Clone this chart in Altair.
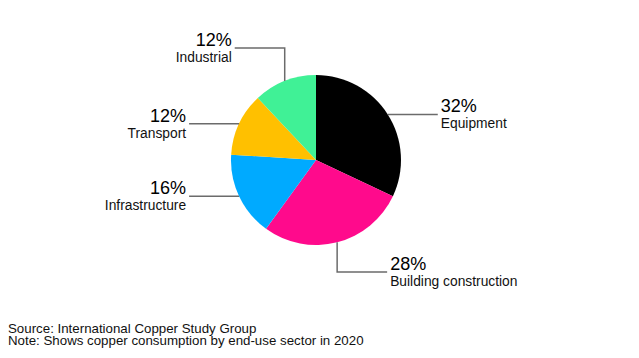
import math
import altair as alt
import pandas as pd

categories = ["Equipment", "Building construction", "Infrastructure", "Transport", "Industrial"]
shares = [32, 28, 16, 12, 12]
colors = ["#000000", "#ff0a8c", "#00aaff", "#ffc000", "#40f196"]
source_note = "Source: International Copper Study Group"
footnote = "Note: Shows copper consumption by end-use sector in 2020"

W, H = 623, 342
CX, CY = 308, 152  # pie centre inside the view
R = 85
ELBOW = 112
ARM = 50

pie = pd.DataFrame({"cat": categories, "share": shares, "idx": list(range(len(categories)))})
pie["x"] = 0
pie["y"] = 0

total = sum(shares)
rows, labels = [], []
cum = 0
for c, s in zip(categories, shares):
    mid = (cum + s / 2) / total * 2 * math.pi
    cum += s
    sn, cs = math.sin(mid), math.cos(mid)
    ex, ey = R * sn, -R * cs
    side = 1 if sn >= 0 else -1
    pts = [(ex, ey)]
    if abs(cs) > 0.8:
        ey2 = ELBOW if ey > 0 else -ELBOW
        pts.append((ex, ey2))
        pts.append((ex + side * ARM, ey2))
    else:
        pts.append((ex + side * ARM, ey))
    for k, (px, py) in enumerate(pts):
        rows.append({"cat": c, "step": k, "x": px, "y": py})
    fx, fy = pts[-1]
    labels.append({"cat": c, "pct": f"{s}%", "side": "right" if side > 0 else "left",
                   "tx": fx + side * 3, "py": fy - 2, "cy": fy + 14})

leaders = pd.DataFrame(rows)
lab = pd.DataFrame(labels)

xs = alt.Scale(domain=[-CX, W - CX], range=[0, W])
ys = alt.Scale(domain=[-CY, H - CY], range=[0, H])
X = lambda f: alt.X(f, type="quantitative", scale=xs, axis=None)
Y = lambda f: alt.Y(f, type="quantitative", scale=ys, axis=None)

arcs = alt.Chart(pie).mark_arc(radius=R).encode(
    x=X("x"), y=Y("y"),
    theta=alt.Theta("share:Q", stack=True),
    order=alt.Order("idx:Q"),
    color=alt.Color("cat:N", scale=alt.Scale(domain=categories, range=colors), legend=None),
)

lines = alt.Chart(leaders).mark_line(color="#6b6b6b", strokeWidth=1.5).encode(
    x=X("x"), y=Y("y"), detail="cat:N", order="step:Q"
)

FONT = "Liberation Sans"
layers = [arcs, lines]
for side, align in [("left", "right"), ("right", "left")]:
    base = alt.Chart(lab).transform_filter(alt.datum.side == side)
    layers.append(base.mark_text(align=align, baseline="alphabetic", font=FONT, fontSize=18,
                                 color="#000000").encode(x=X("tx"), y=Y("py"), text="pct:N"))
    layers.append(base.mark_text(align=align, baseline="alphabetic", font=FONT, fontSize=13.8,
                                 color="#111111").encode(x=X("tx"), y=Y("cy"), text="cat:N"))

for txt, yy in [(source_note, 325), (footnote, 337)]:
    layers.append(
        alt.Chart(pd.DataFrame({"t": [txt]})).mark_text(
            align="left", baseline="alphabetic", font=FONT, fontSize=13.3, color="#111111"
        ).encode(x=alt.value(0), y=alt.value(yy), text="t:N")
    )

chart = alt.layer(*layers).properties(
    width=W, height=H, padding=0, autosize=alt.AutoSizeParams(type="none")
).configure_view(stroke=None)

chart.save("out.html", embed_options={"renderer": "svg", "actions": False})
